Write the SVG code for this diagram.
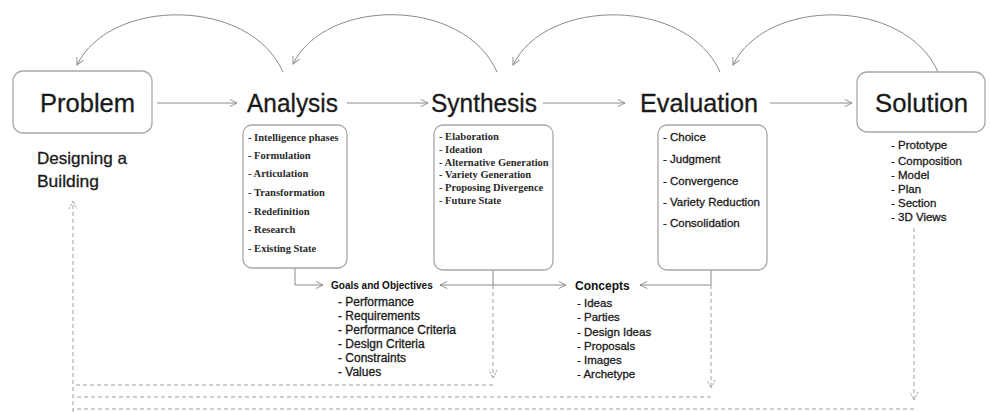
<svg xmlns="http://www.w3.org/2000/svg" width="990" height="412" viewBox="0 0 990 412">
<defs>
<style>
.box{fill:#fff;stroke:#a8a8a8;stroke-width:1.3}
.title{font-family:"Liberation Sans",Arial,sans-serif;font-size:26px;fill:#1a1a1a;stroke:#1a1a1a;stroke-width:0.3}
.serif{font-family:"Liberation Serif","Times New Roman",serif;font-size:10.5px;font-weight:bold;fill:#2a2a2a}
.sans{font-family:"Liberation Sans",Arial,sans-serif;font-size:11.5px;fill:#1a1a1a;stroke:#1a1a1a;stroke-width:0.3}
.goal{font-family:"Liberation Sans",Arial,sans-serif;font-size:12px;fill:#1a1a1a;stroke:#1a1a1a;stroke-width:0.3}
.hd{font-family:"Liberation Sans",Arial,sans-serif;font-weight:bold;fill:#111}
.line{fill:none;stroke:#8a8a8a;stroke-width:1}
.dash{fill:none;stroke:#a0a0a0;stroke-width:1;stroke-dasharray:4 3}
</style>
<marker id="ah" viewBox="0 0 10 10" refX="9" refY="5" markerWidth="9" markerHeight="9" orient="auto" markerUnits="userSpaceOnUse">
<path d="M1,1 L9,5 L1,9" fill="none" stroke="#8a8a8a" stroke-width="1"/>
</marker>
<marker id="ahd" viewBox="0 0 10 10" refX="9" refY="5" markerWidth="10" markerHeight="10" orient="auto" markerUnits="userSpaceOnUse">
<path d="M1,1 L9,5 L1,9" fill="none" stroke="#9a9a9a" stroke-width="1" stroke-dasharray="2 1.5"/>
</marker>
</defs>
<rect width="990" height="412" fill="#fff"/>

<g id="connectors">
<path class="line" d="M157,103 H237" marker-end="url(#ah)"/>
<path class="line" d="M347,103 H428" marker-end="url(#ah)"/>
<path class="line" d="M543,103 H625" marker-end="url(#ah)"/>
<path class="line" d="M770,103 H852" marker-end="url(#ah)"/>
<path class="line" d="M283,72 C250,-3 110,-3 77,65" marker-end="url(#ah)"/>
<path class="line" d="M497,72 C464,-3 326,-3 293,64" marker-end="url(#ah)"/>
<path class="line" d="M720,72 C687,-3 546,-3 513,65" marker-end="url(#ah)"/>
<path class="line" d="M938,72 C905,-3 766,-3 733,65" marker-end="url(#ah)"/>
<path class="line" d="M295,268 V285 H323" marker-end="url(#ah)"/>
<path class="line" d="M493,270 V285 H440" marker-end="url(#ah)"/>
<path class="line" d="M493,285 H566" marker-end="url(#ah)"/>
<path class="line" d="M711,270 V285 H640" marker-end="url(#ah)"/>
<path class="dash" d="M493,285 V378" marker-end="url(#ahd)"/>
<path class="dash" d="M711,285 V388" marker-end="url(#ahd)"/>
<path class="dash" d="M914,228 V400" marker-end="url(#ahd)"/>
<path class="dash" d="M493,385 H73"/>
<path class="dash" d="M711,397 H73"/>
<path class="dash" d="M914,409 H73"/>
<path class="dash" d="M73,412 V201" marker-end="url(#ahd)"/>
</g>

<g id="problem">
<rect class="box" x="13" y="71" width="139" height="62" rx="10"/>
<text class="title" x="40" y="112" textLength="95" lengthAdjust="spacingAndGlyphs">Problem</text>
<text class="sans" x="37" y="164" style="font-size:16.5px" textLength="90" lengthAdjust="spacingAndGlyphs">Designing a</text>
<text class="sans" x="37" y="187" style="font-size:16.5px" textLength="62" lengthAdjust="spacingAndGlyphs">Building</text>
</g>

<g id="analysis">
<text class="title" x="247" y="112" textLength="91" lengthAdjust="spacingAndGlyphs">Analysis</text>
<rect class="box" x="243" y="125" width="104" height="143" rx="9"/>
<text class="serif" x="248" y="141">- Intelligence phases</text>
<text class="serif" x="248" y="159">- Formulation</text>
<text class="serif" x="248" y="177">- Articulation</text>
<text class="serif" x="248" y="196">- Transformation</text>
<text class="serif" x="248" y="215">- Redefinition</text>
<text class="serif" x="248" y="233">- Research</text>
<text class="serif" x="248" y="252">- Existing State</text>
</g>

<g id="synthesis">
<text class="title" x="431" y="112" textLength="106" lengthAdjust="spacingAndGlyphs">Synthesis</text>
<rect class="box" x="434" y="125" width="119" height="145" rx="9"/>
<text class="serif" x="439" y="140">- Elaboration</text>
<text class="serif" x="439" y="153">- Ideation</text>
<text class="serif" x="439" y="166">- Alternative Generation</text>
<text class="serif" x="439" y="178">- Variety Generation</text>
<text class="serif" x="439" y="191">- Proposing Divergence</text>
<text class="serif" x="439" y="204">- Future State</text>
</g>

<g id="evaluation">
<text class="title" x="640" y="112" textLength="118" lengthAdjust="spacingAndGlyphs">Evaluation</text>
<rect class="box" x="658" y="125" width="109" height="145" rx="9"/>
<text class="sans" x="663" y="141">- Choice</text>
<text class="sans" x="663" y="163">- Judgment</text>
<text class="sans" x="663" y="185">- Convergence</text>
<text class="sans" x="663" y="206">- Variety Reduction</text>
<text class="sans" x="663" y="227">- Consolidation</text>
</g>

<g id="solution">
<rect class="box" x="857" y="72" width="128" height="60" rx="10"/>
<text class="title" x="875" y="112" textLength="93" lengthAdjust="spacingAndGlyphs">Solution</text>
<text class="sans" x="891" y="149">- Prototype</text>
<text class="sans" x="891" y="165">- Composition</text>
<text class="sans" x="891" y="179">- Model</text>
<text class="sans" x="891" y="193">- Plan</text>
<text class="sans" x="891" y="207">- Section</text>
<text class="sans" x="891" y="221">- 3D Views</text>
</g>

<g id="goals">
<text class="hd" x="331" y="289" style="font-size:10px">Goals and Objectives</text>
<text class="goal" x="338" y="306">- Performance</text>
<text class="goal" x="338" y="320">- Requirements</text>
<text class="goal" x="338" y="334">- Performance Criteria</text>
<text class="goal" x="338" y="348">- Design Criteria</text>
<text class="goal" x="338" y="362">- Constraints</text>
<text class="goal" x="338" y="376">- Values</text>
</g>

<g id="concepts">
<text class="hd" x="575" y="290" style="font-size:12px">Concepts</text>
<text class="sans" x="577" y="307">- Ideas</text>
<text class="sans" x="577" y="321">- Parties</text>
<text class="sans" x="577" y="336">- Design Ideas</text>
<text class="sans" x="577" y="350">- Proposals</text>
<text class="sans" x="577" y="364">- Images</text>
<text class="sans" x="577" y="378">- Archetype</text>
</g>
</svg>
